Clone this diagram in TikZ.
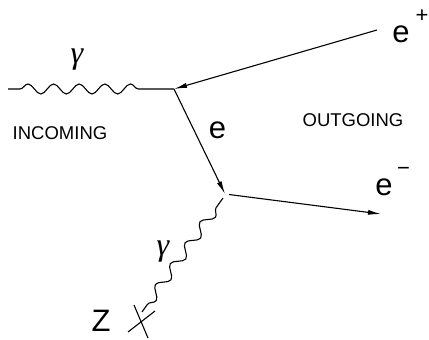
\documentclass[tikz,border=0pt]{standalone}
\usepackage{fontspec}
\setmainfont{Liberation Sans}
\newfontfamily\gammafont{Liberation Serif}
\usetikzlibrary{arrows.meta,decorations.pathmorphing}
\tikzset{
  fermion/.style={line width=1.1pt,-{Latex[length=13pt,width=5pt]}},
  photon/.style={line width=1.1pt,decorate,decoration={snake,amplitude=5pt,segment length=25.6pt}},
  biglabel/.style={inner sep=0pt,font=\fontsize{31}{31}\selectfont},
  smalllabel/.style={inner sep=0pt,font=\fontsize{18.5}{18.5}\selectfont},
  gammalabel/.style={inner sep=0pt,font=\gammafont\itshape\fontsize{32}{32}\selectfont},
  crossline/.style={line width=1.1pt}
}
\begin{document}
\begin{tikzpicture}[x=1pt,y=-1pt]
\useasboundingbox (0,0) rectangle (429,340);
% vertices and free ends
\coordinate (V1) at (174,89);
\coordinate (V2) at (225,194);
\coordinate (Pin) at (8,89);
\coordinate (Epend) at (377,30);
\coordinate (Emend) at (381,214);
\coordinate (Pout) at (142,312);
\coordinate (Xa1) at (128,332);
\coordinate (Xa2) at (155,311);
\coordinate (Xb1) at (134,305);
\coordinate (Xb2) at (148,338);
% photons
\draw[photon,decoration={pre length=12pt,post length=24pt}] (Pin) -- (V1);
\draw[photon,decoration={pre length=12pt,post length=8pt}] ([shift={(-2,4)}]V2) -- (Pout);
% fermions
\draw[fermion] (Epend) -- (V1);
\draw[fermion] (V1) -- (V2);
\draw[fermion,shorten <=4pt] (V2) -- (Emend);
% Z cross
\draw[crossline] (Xa1) -- (Xa2);
\draw[crossline] (Xb1) -- (Xb2);
% labels
\node[gammalabel] (g1) at (77,60) {γ};
\node[gammalabel] (g2) at (163,252) {γ};
\node[biglabel] (ep) at (401,34) {e};
\node[inner sep=0pt,font=\fontsize{22}{22}\selectfont] (epsup) at (422,16) {+};
\node[biglabel] (emid) at (217.5,130) {e};
\node[biglabel] (em) at (384,187) {e};
\node[inner sep=0pt,font=\fontsize{22}{22}\selectfont] (emsup) at (403.5,171) {\textminus};
\node[smalllabel] (inc) at (60,133.5) {INCOMING};
\node[smalllabel] (out) at (353,120) {OUTGOING};
\node[biglabel] (Z) at (101,320.5) {Z};
\end{tikzpicture}
\end{document}
